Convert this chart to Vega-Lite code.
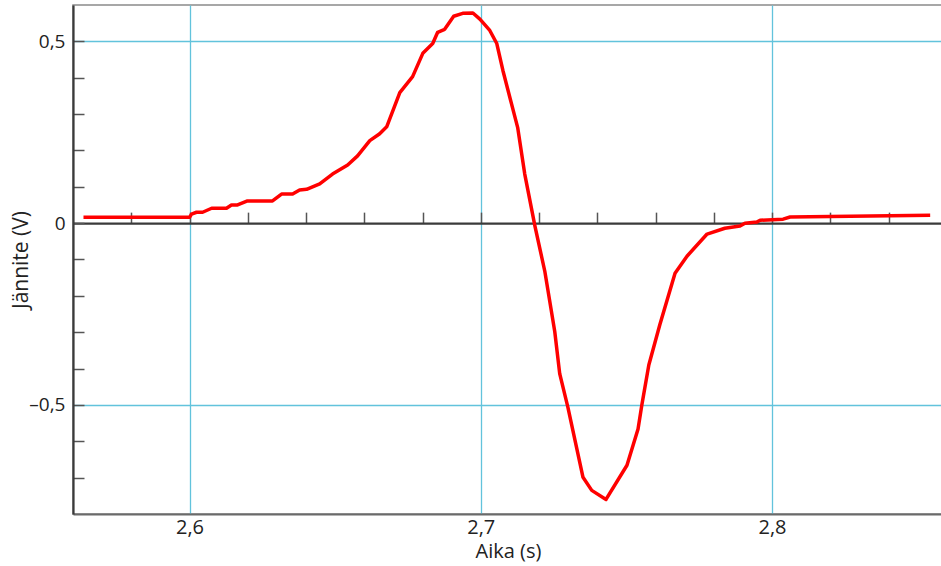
{
  "$schema": "https://vega.github.io/schema/vega-lite/v6.json",
  "width": 870,
  "height": 509,
  "autosize": {"type": "none"},
  "padding": {"left": 73, "top": 5, "right": 0, "bottom": 52},
  "config": {
    "locale": {"number": {"decimal": ",", "thousands": "\u00a0", "grouping": [3], "currency": ["", " €"], "minus": "\u2013"}},
    "view": {"stroke": "#8a8a8a", "strokeWidth": 1.5},
    "axisBottom": {"labelFontSize": 20, "labelFont": "Open Sans", "labelColor": "#222"}
  },
  "data": {"values": [
    {"t": 2.5636, "v": 0.016},
    {"t": 2.6000, "v": 0.016},
    {"t": 2.6007, "v": 0.025},
    {"t": 2.6024, "v": 0.030},
    {"t": 2.6045, "v": 0.030},
    {"t": 2.6076, "v": 0.041},
    {"t": 2.6127, "v": 0.041},
    {"t": 2.6144, "v": 0.050},
    {"t": 2.6165, "v": 0.050},
    {"t": 2.6199, "v": 0.061},
    {"t": 2.6285, "v": 0.061},
    {"t": 2.6316, "v": 0.080},
    {"t": 2.6354, "v": 0.080},
    {"t": 2.6378, "v": 0.091},
    {"t": 2.6402, "v": 0.093},
    {"t": 2.6447, "v": 0.108},
    {"t": 2.6491, "v": 0.135},
    {"t": 2.6543, "v": 0.160},
    {"t": 2.6577, "v": 0.185},
    {"t": 2.6619, "v": 0.227},
    {"t": 2.6653, "v": 0.246},
    {"t": 2.6677, "v": 0.265},
    {"t": 2.6722, "v": 0.359},
    {"t": 2.6766, "v": 0.403},
    {"t": 2.6801, "v": 0.467},
    {"t": 2.6835, "v": 0.494},
    {"t": 2.6852, "v": 0.525},
    {"t": 2.6876, "v": 0.533},
    {"t": 2.6907, "v": 0.569},
    {"t": 2.6938, "v": 0.577},
    {"t": 2.6973, "v": 0.578},
    {"t": 2.6997, "v": 0.561},
    {"t": 2.7031, "v": 0.530},
    {"t": 2.7055, "v": 0.494},
    {"t": 2.7076, "v": 0.420},
    {"t": 2.7127, "v": 0.262},
    {"t": 2.7151, "v": 0.135},
    {"t": 2.7186, "v": -0.008},
    {"t": 2.7220, "v": -0.133},
    {"t": 2.7254, "v": -0.298},
    {"t": 2.7271, "v": -0.414},
    {"t": 2.7299, "v": -0.506},
    {"t": 2.7351, "v": -0.699},
    {"t": 2.7381, "v": -0.735},
    {"t": 2.7430, "v": -0.760},
    {"t": 2.7502, "v": -0.666},
    {"t": 2.7540, "v": -0.566},
    {"t": 2.7553, "v": -0.500},
    {"t": 2.7577, "v": -0.390},
    {"t": 2.7615, "v": -0.279},
    {"t": 2.7667, "v": -0.138},
    {"t": 2.7708, "v": -0.091},
    {"t": 2.7777, "v": -0.030},
    {"t": 2.7838, "v": -0.014},
    {"t": 2.7890, "v": -0.008},
    {"t": 2.7907, "v": 0.000},
    {"t": 2.7948, "v": 0.003},
    {"t": 2.7959, "v": 0.008},
    {"t": 2.8038, "v": 0.011},
    {"t": 2.8062, "v": 0.017},
    {"t": 2.8543, "v": 0.022}
  ]},
  "resolve": {"axis": {"x": "independent"}},
  "layer": [
    {
      "mark": {"type": "line", "color": "#ff0000", "strokeWidth": 3.5, "strokeJoin": "round"},
      "encoding": {
        "x": {"field": "t", "type": "quantitative", "scale": {"domain": [2.56, 2.8587], "nice": false, "zero": false},
          "axis": {"orient": "bottom", "values": [2.6, 2.7, 2.8], "format": ".1f", "ticks": false, "labelPadding": 3,
            "labelFont": "Open Sans", "labelFontSize": 20, "labelColor": "#222",
            "titleFont": "Open Sans", "titleFontSize": 20, "titleColor": "#222", "titleFontWeight": "normal",
            "grid": true, "gridColor": "#62c3dc", "gridWidth": 1.3, "domainColor": "#6a6a6a", "domainWidth": 1.8,
            "title": "Aika (s)", "titlePadding": 4, "labelFlush": false}},
        "y": {"field": "v", "type": "quantitative", "scale": {"domain": [-0.8, 0.6], "nice": false, "zero": false},
          "axis": {"values": [-0.7, -0.6, -0.5, -0.4, -0.3, -0.2, -0.1, 0, 0.1, 0.2, 0.3, 0.4, 0.5], "format": ".1~f",
            "labelExpr": "(abs(abs(datum.value)-0.5) < 0.001 || abs(datum.value) < 0.001) ? replace(replace(datum.label, '-', '\u2013'), '\u2212', '\u2013') : ''",
            "labelFont": "Open Sans", "labelFontSize": 19, "labelColor": "#222",
            "titleFont": "Open Sans", "titleFontSize": 21, "titleColor": "#222", "titleFontWeight": "normal",
            "tickSize": -11, "tickColor": "#555", "tickWidth": 1.5, "labelPadding": 19,
            "grid": true, "gridColor": "#62c3dc", "gridWidth": 1.3,
            "gridOpacity": {"condition": {"test": "abs(abs(datum.value)-0.5) < 0.001", "value": 1}, "value": 0},
            "domainColor": "#3a3a3a", "domainWidth": 2.2,
            "title": "Jännite (V)", "titlePadding": -3}}
      }
    },
    {
      "mark": {"type": "line", "opacity": 0},
      "encoding": {
        "x": {"field": "t", "type": "quantitative", "scale": {"domain": [2.56, 2.8587], "nice": false, "zero": false},
          "axis": {"orient": "top", "offset": -218.14, "values": [2.58, 2.6, 2.62, 2.64, 2.66, 2.68, 2.7, 2.72, 2.74, 2.76, 2.78, 2.8, 2.82, 2.84],
            "labels": false, "title": null, "grid": false, "tickSize": 11, "tickColor": "#555", "tickWidth": 1.5,
            "domainColor": "#3a3a3a", "domainWidth": 2.2}},
        "y": {"field": "v", "type": "quantitative"}
      }
    }
  ]
}
